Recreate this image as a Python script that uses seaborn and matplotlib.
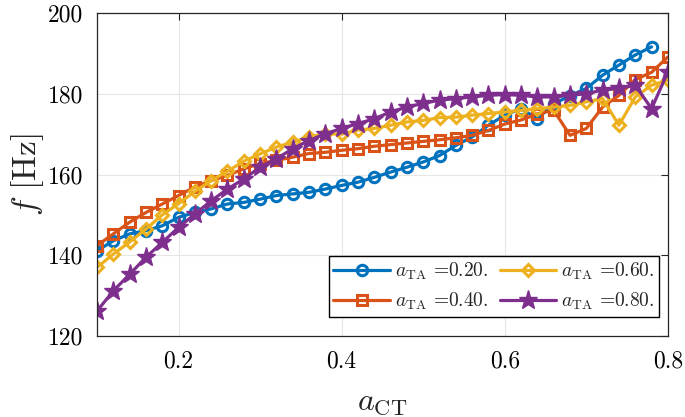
import numpy as np
import pandas as pd
import matplotlib
matplotlib.use("Agg")
import matplotlib.pyplot as plt
import seaborn as sns

a_ct = [0.10, 0.12, 0.14, 0.16, 0.18, 0.20, 0.22, 0.24, 0.26, 0.28, 0.30, 0.32,
        0.34, 0.36, 0.38, 0.40, 0.42, 0.44, 0.46, 0.48, 0.50, 0.52, 0.54, 0.56,
        0.58, 0.60, 0.62, 0.64, 0.66, 0.68, 0.70, 0.72, 0.74, 0.76, 0.78, 0.80]

f_ta020 = [141.1, 143.6, 145.3, 146.1, 147.3, 149.4, 150.6, 151.5, 152.7, 153.1,
           153.9, 154.8, 155.2, 155.6, 156.4, 157.3, 158.1, 159.3, 160.6, 161.8,
           163.1, 164.7, 167.2, 169.3, 172.2, 174.7, 176.3, 173.8, 177.5, 179.5,
           181.3, 184.6, 187.1, 189.6, 191.6]
f_ta040 = [142.4, 145.3, 148.2, 150.6, 152.7, 154.8, 156.9, 158.5, 159.8, 161.4,
           162.7, 163.5, 164.3, 165.2, 165.5, 166.0, 166.4, 167.0, 167.4, 167.8,
           168.2, 168.6, 169.1, 169.7, 170.9, 172.5, 173.5, 175.0, 175.9, 169.7,
           171.4, 176.7, 179.6, 183.5, 185.3, 189.1]
f_ta060 = [137.0, 140.3, 143.3, 146.5, 150.0, 152.8, 155.8, 158.5, 160.8, 163.3,
           165.1, 166.8, 168.0, 169.3, 170.1, 170.0, 171.0, 171.4, 172.2, 173.0,
           173.4, 174.1, 174.2, 174.7, 175.1, 175.5, 175.9, 176.3, 176.7, 177.1,
           178.0, 178.8, 172.2, 179.2, 182.1, 183.4]
f_ta080 = [126.2, 131.2, 135.3, 139.5, 143.2, 146.9, 150.2, 153.5, 156.4, 158.9,
           161.8, 163.9, 166.4, 168.4, 170.1, 171.4, 172.6, 173.8, 175.5, 176.7,
           177.6, 178.4, 178.8, 179.2, 179.6, 179.8, 179.6, 179.2, 179.2, 179.6,
           180.0, 180.9, 181.3, 182.1, 176.3, 185.4]

labels = [r"$a_{\mathrm{TA}}$ =0.20.", r"$a_{\mathrm{TA}}$ =0.40.",
          r"$a_{\mathrm{TA}}$ =0.60.", r"$a_{\mathrm{TA}}$ =0.80."]
x_ticks = [0.2, 0.4, 0.6, 0.8]
y_ticks = [120, 140, 160, 180, 200]

sns.set_style("white")
plt.rcParams["font.family"] = ["cmr10", "DejaVu Serif"]
plt.rcParams["mathtext.fontset"] = "cm"
plt.rcParams["axes.formatter.use_mathtext"] = True

fig = plt.figure(figsize=(6.85, 4.17), dpi=100)
ax = fig.add_axes([0.1416, 0.194, 0.8334, 0.775])

series = [f_ta020, f_ta040, f_ta060, f_ta080]
colors = ["#0072BD", "#D95319", "#EDB120", "#7E2F8E"]
styles = [
    dict(marker="o", markersize=7.5, markerfacecolor="none", markeredgewidth=2.2),
    dict(marker="s", markersize=7.0, markerfacecolor="none", markeredgewidth=2.2),
    dict(marker="D", markersize=6.5, markerfacecolor="none", markeredgewidth=2.2),
    dict(marker="*", markersize=14, markeredgewidth=1.0),
]
for vals, lab, col, st in zip(series, labels, colors, styles):
    df = pd.DataFrame({"a_ct": a_ct[:len(vals)], "f": vals})
    sns.lineplot(data=df, x="a_ct", y="f", ax=ax, color=col, linewidth=2.3,
                 label=lab, markeredgecolor=col, **st)

ax.set_xlim(0.1, 0.8)
ax.set_ylim(120, 200)
ax.set_xticks(x_ticks)
ax.set_yticks(y_ticks)
ax.set_xticklabels([f"{t:.1f}" for t in x_ticks])
ax.set_yticklabels([str(t) for t in y_ticks])
ax.tick_params(direction="in", length=5, width=0.8, labelsize=17, colors="#262626",
               top=True, right=True, labelcolor="black")
ax.tick_params(axis="x", pad=10)
ax.tick_params(axis="y", pad=10)
ax.grid(True, color="#e6e6e6", linewidth=0.8)
for s in ax.spines.values():
    s.set_color("#262626")
    s.set_linewidth(0.9)
ax.set_xlabel(r"$a_{\mathrm{CT}}$", fontsize=23)
ax.set_ylabel(r"$f\ [\mathrm{Hz}]$", fontsize=24)
ax.xaxis.set_label_coords(0.5, -0.165)
ax.yaxis.set_label_coords(-0.09, 0.5)

leg = ax.legend(ncol=2, loc="lower right", bbox_to_anchor=(0.985, 0.06),
                fontsize=14, frameon=True, fancybox=False, edgecolor="black",
                handlelength=2.9, columnspacing=0.6, handletextpad=0.25,
                borderpad=0.25, labelspacing=0.45, borderaxespad=0.0)
leg.get_frame().set_linewidth(1.0)
leg.get_frame().set_alpha(1)

fig.savefig("out.png", dpi=100)
